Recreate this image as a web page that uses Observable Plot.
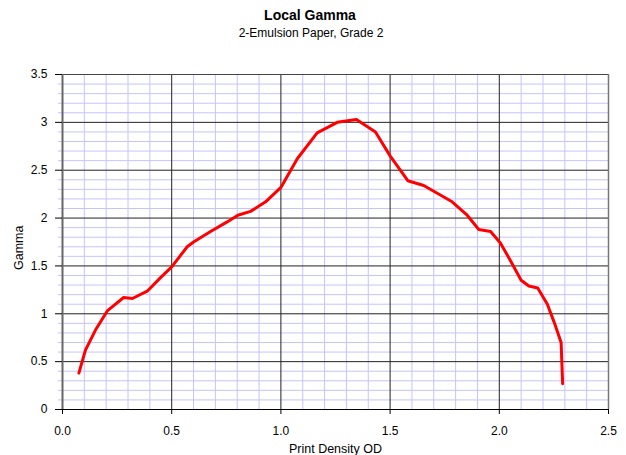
<!DOCTYPE html>
<html>
<head>
<meta charset="utf-8">
<script src="https://cdn.jsdelivr.net/npm/d3@7"></script>
<script src="https://cdn.jsdelivr.net/npm/@observablehq/plot@0.6"></script>
<style>
  html, body { margin: 0; padding: 0; background: #fff; }
  #wrap { width: 626px; height: 455px; position: relative; font-family: "Liberation Sans", Arial, sans-serif; }
  #title { position: absolute; top: 7px; left: -3px; width: 626px; text-align: center; font-size: 14px; line-height: 16px; font-weight: bold; color: #000; }
  #subtitle { position: absolute; top: 26px; left: -2px; width: 626px; text-align: center; font-size: 12px; line-height: 14px; color: #000; }
  #chart { position: absolute; top: 50px; left: 0; }
</style>
</head>
<body>
<div id="wrap">
  <div id="title">Local Gamma</div>
  <div id="subtitle">2-Emulsion Paper, Grade 2</div>
  <div id="chart"></div>
</div>
<script>
const printDensity = [0.075, 0.105, 0.151, 0.205, 0.28, 0.32, 0.39, 0.45, 0.5, 0.571, 0.60, 0.678, 0.754, 0.803, 0.861, 0.93, 1.0, 1.075, 1.166, 1.258, 1.346, 1.433, 1.50, 1.581, 1.654, 1.70, 1.784, 1.853, 1.906, 1.96, 2.005, 2.05, 2.10, 2.135, 2.176, 2.22, 2.253, 2.283, 2.29];
const gamma = [0.38, 0.62, 0.83, 1.03, 1.17, 1.16, 1.24, 1.38, 1.49, 1.70, 1.75, 1.86, 1.96, 2.03, 2.07, 2.17, 2.32, 2.62, 2.89, 3.00, 3.03, 2.90, 2.65, 2.39, 2.34, 2.28, 2.17, 2.03, 1.88, 1.86, 1.74, 1.56, 1.35, 1.29, 1.27, 1.10, 0.90, 0.70, 0.27];

const xTicks = [0, 0.5, 1.0, 1.5, 2.0, 2.5];
const yTicks = [0, 0.5, 1, 1.5, 2, 2.5, 3, 3.5];
const xMinor = [0.1, 0.2, 0.3, 0.4, 0.6, 0.7, 0.8, 0.9, 1.1, 1.2, 1.3, 1.4, 1.6, 1.7, 1.8, 1.9, 2.1, 2.2, 2.3, 2.4];
const yMinor = [0.1, 0.2, 0.3, 0.4, 0.6, 0.7, 0.8, 0.9, 1.1, 1.2, 1.3, 1.4, 1.6, 1.7, 1.8, 1.9, 2.1, 2.2, 2.3, 2.4, 2.6, 2.7, 2.8, 2.9, 3.1, 3.2, 3.3, 3.4];
const xLabel = "Print Density OD";
const yLabel = "Gamma";

const data = printDensity.map((d, i) => ({od: d, gamma: gamma[i]}));
const font = "Liberation Sans, Arial, sans-serif";

const chart = Plot.plot({
  width: 626,
  height: 405,
  marginTop: 24,
  marginBottom: 46,
  marginLeft: 62,
  marginRight: 18,
  style: {fontFamily: font, fontSize: "12px", color: "#000", background: "#fff"},
  x: {domain: [0, 2.5]},
  y: {domain: [0, 3.5]},
  marks: [
    Plot.gridX(xMinor, {stroke: "#c4c4ff", strokeOpacity: 1}),
    Plot.gridY(yMinor, {stroke: "#c4c4ff", strokeOpacity: 1}),
    Plot.axisY(yMinor, {anchor: "left", tickSize: 4, stroke: "#c4c4ff", text: null, label: null}),
    Plot.gridX([0.5, 1.0, 1.5, 2.0], {stroke: "#222", strokeOpacity: 1}),
    Plot.gridY([0.5, 1, 1.5, 2, 2.5, 3], {stroke: "#222", strokeOpacity: 1}),
    Plot.ruleY([3.5], {stroke: "#444", strokeWidth: 1.2}),
    Plot.ruleX([2.5], {stroke: "#777", strokeWidth: 1.5}),
    Plot.ruleX([0], {stroke: "#666", strokeWidth: 2}),
    Plot.ruleY([0], {stroke: "#000", strokeWidth: 1}),
    Plot.axisY(yTicks, {anchor: "left", tickSize: 7, tickPadding: 8, stroke: "#000", fill: "#000", fontSize: 12, label: null, tickFormat: d => String(d)}),
    Plot.axisX(xTicks, {anchor: "bottom", tickSize: 5, tickPadding: 12, stroke: "#000", fill: "#000", fontSize: 12, label: null, tickFormat: d => d.toFixed(1)}),
    Plot.line(data, {x: "od", y: "gamma", stroke: "#ff0000", strokeWidth: 3, strokeLinejoin: "round"}),
    Plot.text([xLabel], {frameAnchor: "bottom", dy: 43, text: d => d, fontSize: 12.5, fill: "#000"}),
    Plot.text([yLabel], {frameAnchor: "left", dx: -44, dy: 28, rotate: -90, text: d => d, fontSize: 12.5, fill: "#000"})
  ]
});
document.getElementById("chart").appendChild(chart);
</script>
</body>
</html>
